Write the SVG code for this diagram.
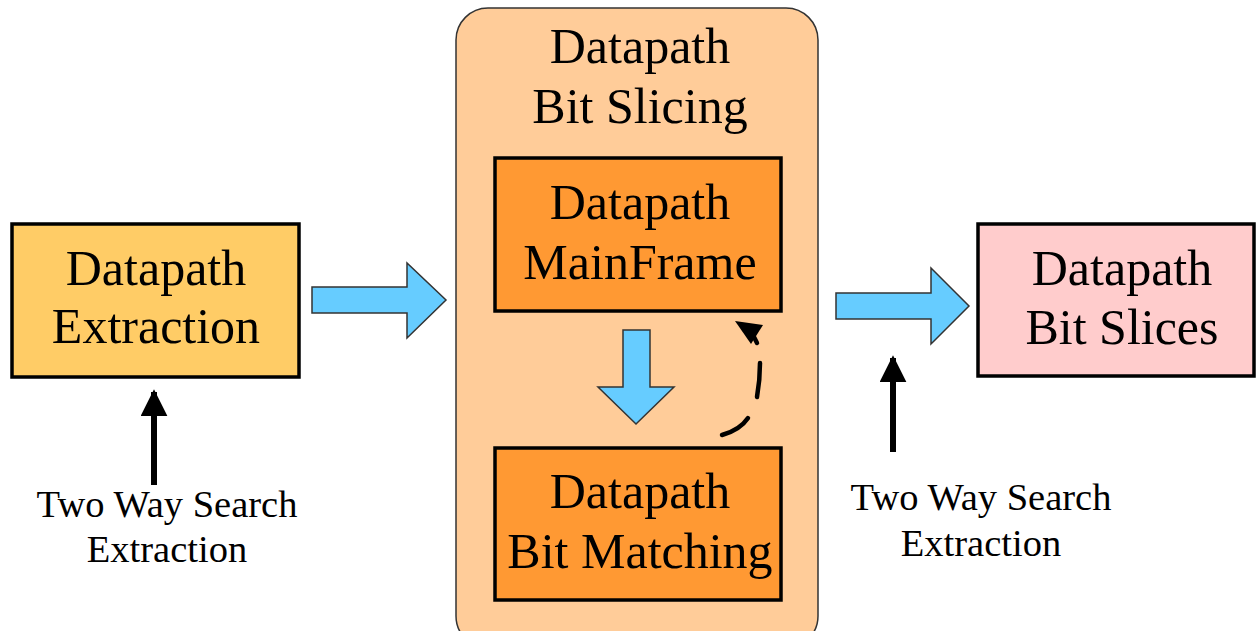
<svg xmlns="http://www.w3.org/2000/svg" width="1256" height="631" viewBox="0 0 1256 631">
  <defs>
    <style>
      .box { stroke: #000; stroke-width: 3.5; }
      .big { font-family: "Liberation Serif", "Times New Roman", serif; font-size: 50px; fill: #000; text-anchor: middle; }
      .small { font-family: "Liberation Serif", "Times New Roman", serif; font-size: 38.5px; fill: #000; text-anchor: middle; }
      .blue { fill: #66CCFF; stroke: #333; stroke-width: 1.5; stroke-linejoin: miter; }
      .push { stroke: #000; stroke-width: 6; fill: none; }
      .loop { stroke: #000; stroke-width: 4.5; fill: none; stroke-linecap: round; }
    </style>
    <marker id="tri" viewBox="0 0 10 10" refX="9" refY="5" markerWidth="4.5" markerHeight="4.5" markerUnits="strokeWidth" orient="auto">
      <path d="M0,0 L10,5 L0,10 z" fill="#000"/>
    </marker>
  </defs>

  <!-- Bit slicing container -->
  <g id="bit-slicing">
    <rect x="456" y="8" width="362" height="640" rx="32" ry="32" fill="#FFCC99" stroke="#333" stroke-width="1.5"/>
    <text class="big" x="640" y="63">Datapath</text>
    <text class="big" x="640" y="123">Bit Slicing</text>
  </g>

  <g id="extraction">
    <rect class="box" x="12" y="224" width="287" height="153" fill="#FFCC66"/>
    <text class="big" x="156" y="285">Datapath</text>
    <text class="big" x="156" y="343">Extraction</text>
  </g>

  <g id="mainframe">
    <rect class="box" x="495" y="158" width="286" height="153" fill="#FF9933"/>
    <text class="big" x="640" y="219">Datapath</text>
    <text class="big" x="640" y="279">MainFrame</text>
  </g>

  <g id="bit-matching">
    <rect class="box" x="495" y="448" width="286" height="152" fill="#FF9933"/>
    <text class="big" x="640" y="508">Datapath</text>
    <text class="big" x="640" y="568">Bit Matching</text>
  </g>

  <g id="bit-slices">
    <rect class="box" x="978" y="224" width="276" height="152" fill="#FFCCCC"/>
    <text class="big" x="1122" y="285">Datapath</text>
    <text class="big" x="1122" y="344">Bit Slices</text>
  </g>

  <g id="search-left">
    <text class="small" x="167" y="517">Two Way Search</text>
    <text class="small" x="167" y="562">Extraction</text>
  </g>

  <g id="search-right">
    <text class="small" x="981" y="510">Two Way Search</text>
    <text class="small" x="981" y="556">Extraction</text>
  </g>

  <g id="connectors">
    <!-- block arrows -->
    <path class="blue" d="M312,287 H407 V263 L446,300 L407,338 V313 H312 Z"/>
    <path class="blue" d="M836,293 H931 V268 L969,306 L931,344 V319 H836 Z"/>
    <path class="blue" d="M623,330 H650 V387 H674 L636,424 L598,387 H623 Z"/>
    <!-- search inputs -->
    <path class="push" d="M154,485 V392" marker-end="url(#tri)"/>
    <path class="push" d="M893,452 V358" marker-end="url(#tri)"/>
    <!-- feedback loop, dashed -->
    <path class="loop" d="M722,435 Q740,430 748,418"/>
    <path class="loop" d="M757,397 Q760,380 760,363"/>
    <path class="loop" d="M752,333 L757,343"/>
    <path d="M735,321 L763,325 L751,344 Z" fill="#000"/>
  </g>
</svg>
